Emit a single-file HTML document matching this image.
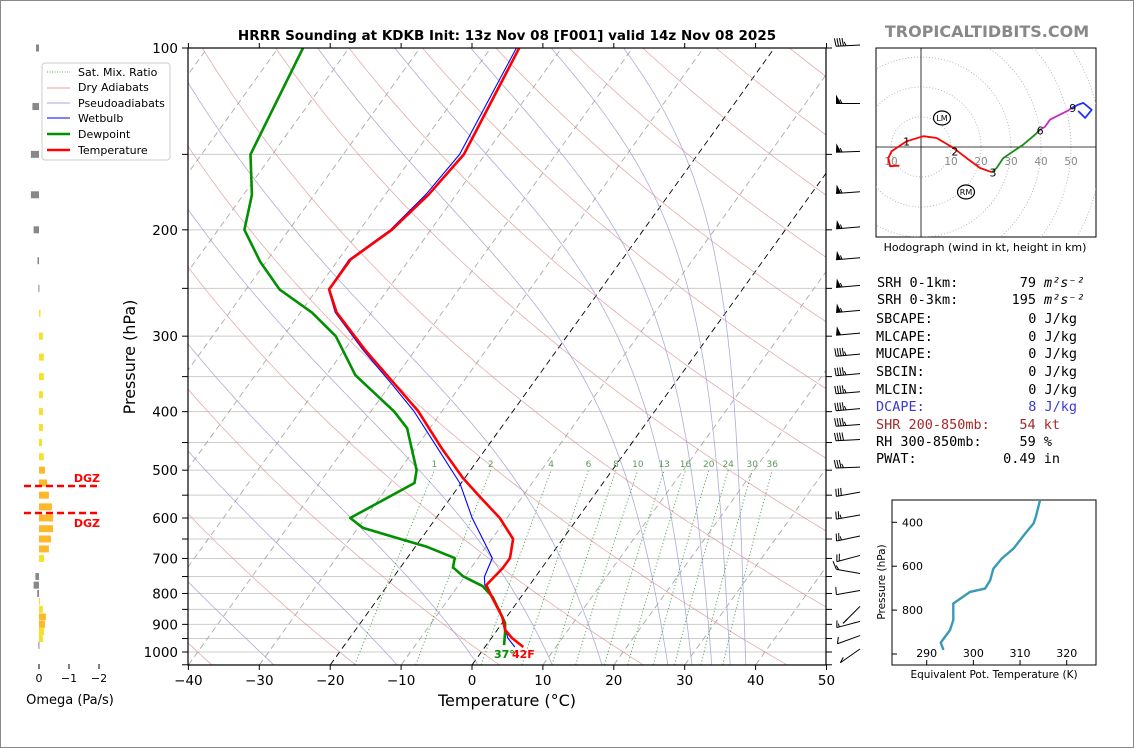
<!DOCTYPE html>
<html><head><meta charset="utf-8"><style>
html,body{margin:0;padding:0;background:#fff;}
svg{display:block;font-family:"DejaVu Sans","Liberation Sans",sans-serif;}
.mono{font-family:"DejaVu Sans Mono","Liberation Mono",monospace;font-size:13.5px;}
</style></head><body>
<svg id="fig" width="1134" height="748" viewBox="0 0 1134 748" xmlns="http://www.w3.org/2000/svg">
<defs>
<clipPath id="plotclip"><rect x="188" y="48" width="638" height="617"/></clipPath>
<clipPath id="hodoclip"><rect x="876" y="48" width="220" height="189"/></clipPath>
<clipPath id="insetclip"><rect x="892" y="500" width="204" height="165"/></clipPath>
</defs>
<rect x="0.5" y="0.5" width="1133" height="747" fill="#fff" stroke="#888"/>
<text x="507" y="40" text-anchor="middle" font-size="13.5" font-weight="bold">HRRR Sounding at KDKB Init: 13z Nov 08 [F001] valid 14z Nov 08 2025</text>
<text x="987" y="37" text-anchor="middle" font-size="16" font-weight="bold" fill="#888">TROPICALTIDBITS.COM</text>
<g id="bg" clip-path="url(#plotclip)"></g>
<g id="series" clip-path="url(#plotclip)"></g>
<rect x="188" y="48" width="638" height="617" fill="none" stroke="#000" stroke-width="1.2"/>
<g id="axes"></g>
<text x="0" y="0" transform="translate(135,357) rotate(-90)" text-anchor="middle" font-size="16">Pressure (hPa)</text>
<text x="507" y="706" text-anchor="middle" font-size="16">Temperature (°C)</text>
<g id="omega"></g>
<text x="70" y="704" text-anchor="middle" font-size="13">Omega (Pa/s)</text>
<g id="winds"></g>
<g>
<rect x="42" y="63" width="128" height="97" rx="3" fill="#fff" stroke="#ccc"/>
<line x1="47" y1="72" x2="70" y2="72" stroke="#2a9a2a" stroke-dasharray="1,1.5" stroke-width="0.8"/>
<text x="78" y="76" font-size="11">Sat. Mix. Ratio</text>
<line x1="47" y1="88" x2="70" y2="88" stroke="#e0a0a0"/>
<text x="78" y="91" font-size="11">Dry Adiabats</text>
<line x1="47" y1="103" x2="70" y2="103" stroke="#aaaadd"/>
<text x="78" y="107" font-size="11">Pseudoadiabats</text>
<line x1="47" y1="118" x2="70" y2="118" stroke="#0000ff"/>
<text x="78" y="122" font-size="11">Wetbulb</text>
<line x1="47" y1="134" x2="70" y2="134" stroke="#009000" stroke-width="2.5"/>
<text x="78" y="138" font-size="11">Dewpoint</text>
<line x1="47" y1="150" x2="70" y2="150" stroke="#ff0000" stroke-width="2.5"/>
<text x="78" y="154" font-size="11">Temperature</text>
</g>
<g id="hodo">
<rect x="876" y="48" width="220" height="189" fill="#fff" stroke="#000"/>
</g>
<text x="985" y="251" text-anchor="middle" font-size="11">Hodograph (wind in kt, height in km)</text>
<g class="mono">
<text x="877" y="287">SRH 0-1km:</text><text x="1036" y="287" text-anchor="end">79</text><text x="1044" y="287" font-style="italic">m²s⁻²</text>
<text x="877" y="304">SRH 0-3km:</text><text x="1036" y="304" text-anchor="end">195</text><text x="1044" y="304" font-style="italic">m²s⁻²</text>
<text x="876" y="323">SBCAPE:</text><text x="1077" y="323" text-anchor="end">0 J/kg</text>
<text x="876" y="341">MLCAPE:</text><text x="1077" y="341" text-anchor="end">0 J/kg</text>
<text x="876" y="358">MUCAPE:</text><text x="1077" y="358" text-anchor="end">0 J/kg</text>
<text x="876" y="376">SBCIN:</text><text x="1077" y="376" text-anchor="end">0 J/kg</text>
<text x="876" y="394">MLCIN:</text><text x="1077" y="394" text-anchor="end">0 J/kg</text>
<text x="876" y="411" fill="#3a3ad0">DCAPE:</text><text x="1077" y="411" text-anchor="end" fill="#3a3ad0">8 J/kg</text>
<text x="876" y="429" fill="#a52a2a">SHR 200-850mb:</text><text x="1060" y="429" text-anchor="end" fill="#a52a2a">54 kt</text>
<text x="876" y="446">RH 300-850mb:</text><text x="1052" y="446" text-anchor="end">59 %</text>
<text x="876" y="463">PWAT:</text><text x="1060" y="463" text-anchor="end">0.49 in</text>
</g>
<g id="inset">
<rect x="892" y="500" width="204" height="165" fill="#fff" stroke="#000"/>
</g>
<text x="0" y="0" transform="translate(885,582) rotate(-90)" text-anchor="middle" font-size="10.5">Pressure (hPa)</text>
<text x="994" y="678" text-anchor="middle" font-size="10.5">Equivalent Pot. Temperature (K)</text>
</svg>
<script>
// ---- data ----
const tempP=[100,150,175,200,224,251,274,316,361,399,458,515,554,600,650,699,726,775,811,875,919,948,981];
const tempT=[-56.0,-53.0,-53.9,-55.5,-58.3,-58.3,-54.9,-47.1,-39.3,-33.4,-26.5,-20.3,-15.9,-11.0,-7.0,-5.5,-5.5,-6.1,-4.1,-0.6,1.1,2.9,5.4];
const dewP=[100,150,175,200,226,251,274,300,348,400,426,446,500,525,600,623,670,699,724,749,778,811,875,895,926,974];
const dewT=[-86.5,-83.1,-78.8,-76.3,-70.8,-65.3,-58.4,-52.6,-45.9,-36.7,-33.2,-31.6,-27.6,-26.6,-32.1,-29.3,-18.3,-13.3,-12.6,-10.3,-6.5,-4.0,-0.6,0.4,1.3,2.5];
const wbP=[100,150,175,200,224,251,274,316,361,399,446,525,600,699,751,775,811,875,948,981];
const wbT=[-56.4,-53.6,-54.3,-55.7,-58.5,-58.4,-55.1,-47.4,-39.7,-34.0,-28.4,-20.2,-14.9,-8.0,-7.2,-6.3,-4.1,-0.6,2.3,4.2];
const omegaP=[100,125,150,175,200,225,250,275,300,325,350,375,400,425,450,475,500,525,550,575,600,625,650,675,700,750,775,800,825,850,875,900,925,950,975];
const omegaV=[0.1,0.22,0.27,0.27,0.18,0.05,0.02,-0.05,-0.13,-0.16,-0.16,-0.13,-0.13,-0.13,-0.1,-0.16,-0.2,-0.27,-0.33,-0.43,-0.47,-0.47,-0.4,-0.33,-0.17,0.12,0.18,0.06,-0.03,-0.13,-0.23,-0.2,-0.17,-0.13,0.02];
const windP=[100,125,150,175,200,225,250,275,300,325,350,375,400,425,450,500,550,600,650,700,750,800,850,900,950,1000];
const windSpd=[45,55,55,55,55,55,55,55,50,45,45,45,45,45,40,35,30,25,25,20,15,10,10,15,10,10];
const windAng=[-3,0,-2,-4,-5,-5,-5,-5,-5,-5,-5,-5,-5,-4,-3,-2,-10,-10,-12,-15,10,-10,-45,-15,-20,-35];
const hodoRedU=[-7.2,-10.3,-10.9,-9.8,-4.8,0.8,5.2,10.8,15.2,19.7,23.6];
const hodoRedV=[-6.2,-6.4,-3.7,-1.4,1.9,3.6,3.0,-0.3,-3.7,-7.0,-8.4];
const hodoGreenU=[23.6,25.2,27.4,34.1,38.0,39.7];
const hodoGreenV=[-8.4,-7.0,-3.7,0.8,4.1,5.8];
const hodoMagU=[39.7,41.3,43.0,44.1,49.1,50.2];
const hodoMagV=[5.8,6.7,9.1,9.7,12.2,13.0];
const hodoBlueU=[50.2,52.4,54.1,56.9,54.7,52.4];
const hodoBlueV=[13.0,14.1,14.7,12.4,9.7,12.0];
const hodoLabels=["1","2","3","6","9"];
const hodoLabelU=[-4.8,11.3,24.0,39.7,50.6];
const hodoLabelV=[1.8,-1.5,-8.5,5.5,13.0];
const thetaE=[314.3,313.4,312.9,311.1,308.6,306.1,304.3,303.6,302.5,299.3,295.7,295.7,295.0,293.0,293.6];
const thetaEP=[298,374,405,451,520,565,611,664,702,717,770,845,891,948,982];
const pTicks=[100,200,300,400,500,600,700,800,900,1000];
const tTicks=[-40,-30,-20,-10,0,10,20,30,40,50];
const mixRatios=[1,2,4,6,8,10,13,16,20,24,30,36];
const omegaTicks=[0,-1,-2];
const insetXTicks=[290,300,310,320];
const insetYTicks=[400,600,800,1000];

// ---- scales ----
function yP(p){return 48+604*Math.log10(p/100);}
function xT(T,p){return 472+7.09*T+0.72*(665-yP(p));}
function xO(w){return 39-30*w;}
function hx(u){return 921+3*u;}
function hy(v){return 147-3*v;}
function ix(th){return 926.7+(th-290)*4.667;}
function iy(p){return 522.3+(p-400)*0.2195;}

const NS="http://www.w3.org/2000/svg";
function mk(tag,parent,attrs){const e=document.createElementNS(NS,tag);for(const k in attrs)e.setAttribute(k,attrs[k]);parent.appendChild(e);return e;}
const bg=document.getElementById('bg'),series=document.getElementById('series'),axes=document.getElementById('axes');

for(let p=100;p<=1050;p+=50){
  const l=mk('line',bg,{x1:188,x2:826,y1:yP(p),y2:yP(p),stroke:'#cccccc','stroke-width':1});
  
  
}
for(let T=-130;T<=50;T+=10){
  const c=(T===0||T===-20)?'#000':'#aaa';
  const l=mk('line',bg,{x1:xT(T,1050),y1:yP(1050),x2:xT(T,100),y2:yP(100),stroke:c,'stroke-width':0.9,'stroke-dasharray':'6,4'});
  
  
}
for(let th=-40;th<=220;th+=20){
  let d='';
  for(let p=1050;p>=100;p-=10){const T=(th+273.15)*Math.pow(p/1000,0.286)-273.15;d+=(d?'L':'M')+xT(T,p).toFixed(1)+','+yP(p).toFixed(1);}
  const l=mk('path',bg,{d:d,fill:'none',stroke:'#d88',opacity:0.7,'stroke-width':0.8});
  
  
}
function es(T){return 6.112*Math.exp(17.67*T/(T+243.5));}
const moistStart=[-28,-10.6,0.8,11.3,18.3,27.6,31,33.8,36.4,38.6];
moistStart.forEach(T0=>{
  let T=T0,d='';
  for(let p=1050;p>=100;p-=2){
    d+=(d?'L':'M')+xT(T,p).toFixed(1)+','+yP(p).toFixed(1);
    const Tk=T+273.15,e=es(T),rs=0.622*e/(p-e);
    const dTdp=(287*Tk+2.5e6*rs)/(p*(1005+2.5e6*2.5e6*rs*0.622/(287*Tk*Tk)));
    T-=dTdp*2;
  }
  const l=mk('path',bg,{d:d,fill:'none',stroke:'#99c',opacity:0.8,'stroke-width':0.8});
  
  
});
mixRatios.forEach(w=>{
  let d='';
  for(let p=1050;p>=500;p-=10){const e=w*p/(622+w);const L=Math.log(e/6.112);const Td=243.5*L/(17.67-L);d+=(d?'L':'M')+xT(Td,p).toFixed(1)+','+yP(p).toFixed(1);}
  const l=mk('path',bg,{d:d,fill:'none',stroke:'#2a8a2a','stroke-width':0.9,'stroke-dasharray':'1.2,2.2',opacity:0.8});
  
  
  const e=w*500/(622+w);const L=Math.log(e/6.112);const Td=243.5*L/(17.67-L);
  const t=mk('text',bg,{x:xT(Td,500),y:yP(500)-3,'font-size':9,fill:'#5a9a5a','text-anchor':'middle'});
  t.textContent=w;
  
  
});
function prof(P,T,color,w){
  let d='';P.forEach((p,i)=>{d+=(i?'L':'M')+xT(T[i],p).toFixed(1)+','+yP(p).toFixed(1);});
  return mk('path',series,{d:d,fill:'none',stroke:color,'stroke-width':w,'stroke-linejoin':'round'});
}
const wbl=prof(wbP,wbT,'#0000ff',1.1);


const dwl=prof(dewP,dewT,'#009000',2.6);


const tl=prof(tempP,tempT,'#ff0000',2.6);


const sd=mk('text',series,{x:494,y:658,'font-size':11,'font-weight':'bold',fill:'#009000'});
sd.textContent='37°';


const st=mk('text',series,{x:512,y:658,'font-size':11,'font-weight':'bold',fill:'#ff0000'});
st.textContent='42F';



for(let p=100;p<=1050;p+=50){
  const y=yP(p);
  const a=mk('line',axes,{x1:182,x2:188,y1:y,y2:y,stroke:'#000'});
  
  
  const b=mk('line',axes,{x1:826,x2:832,y1:y,y2:y,stroke:'#000'});
  
  
}
pTicks.forEach(p=>{
  const t=mk('text',axes,{x:178,y:yP(p)+5,'text-anchor':'end','font-size':13.5});
  t.textContent=p;
  
  
});
tTicks.forEach(T=>{
  const x=472+7.09*T;
  const a=mk('line',axes,{x1:x,x2:x,y1:665,y2:670,stroke:'#000'});
  
  
  const b=mk('line',axes,{x1:x,x2:x,y1:43,y2:48,stroke:'#000'});
  
  
  const t=mk('text',axes,{x:x,y:685,'text-anchor':'middle','font-size':13.5});
  t.textContent=(T<0?'\u2212'+(-T):T);
  
  
});

const om=document.getElementById('omega');
omegaP.forEach((p,i)=>{
  const w=omegaV[i];const x=xO(w);
  const col=w>0?'#888888':(w<=-0.2?'#fdb92b':'#f7e02a');
  const r=mk('rect',om,{x:Math.min(39,x),y:yP(p)-3.5,width:Math.max(1,Math.abs(x-39)),height:7,fill:col});
  
  
});
omegaTicks.forEach(w=>{
  const a=mk('line',om,{x1:xO(w),x2:xO(w),y1:664,y2:669,stroke:'#000'});
  
  
  const t=mk('text',om,{x:xO(w),y:682,'text-anchor':'middle','font-size':11});
  t.textContent=w===0?'0':'\u2212'+(-w);
  
  
});
[486,513].forEach((y,i)=>{
  const l=mk('line',om,{x1:24,x2:99,y1:y,y2:y,stroke:'#ff0000','stroke-width':2.5,'stroke-dasharray':'7,4'});
  
  
  const t=mk('text',om,{x:100,y:i===0?482:527,'text-anchor':'end','font-size':11,'font-weight':'bold',fill:'#ff0000'});
  t.textContent='DGZ';
  
  
});

const wg=document.getElementById('winds');
windP.forEach((p,i)=>{
  const px=860,py=yP(p)-3;
  const a=windAng[i]*Math.PI/180;
  const dx=-Math.cos(a),dy=-Math.sin(a);
  const nxx=-Math.sin(a),nyy=-Math.cos(a);
  const ex=px+dx*24,ey=py+dy*24;
  const s=mk('line',wg,{x1:px,y1:py,x2:ex,y2:ey,stroke:'#000','stroke-width':1});
  
  
  let spd=windSpd[i],pos=0;
  while(spd>=50){
    const bx=ex-dx*pos,by=ey-dy*pos;
    const f=mk('polygon',wg,{points:`${bx},${by} ${bx-dx*5},${by-dy*5} ${bx+nxx*9},${by+nyy*9}`,fill:'#000'});
    
    
    spd-=50;pos+=6;
  }
  while(spd>=5){
    const bx=ex-dx*pos,by=ey-dy*pos;
    const L=spd>=10?8:4;
    const b=mk('line',wg,{x1:bx,y1:by,x2:bx+nxx*L+dx*2,y2:by+nyy*L+dy*2,stroke:'#000','stroke-width':1});
    
    
    spd-=(spd>=10?10:5);pos+=2.5;
  }
});

const hg=document.getElementById('hodo');
const hc=mk('g',hg,{'clip-path':'url(#hodoclip)'});
for(let r=10;r<=80;r+=10){
  const c=mk('circle',hc,{cx:hx(0),cy:hy(0),r:3*r,fill:'none',stroke:'#aaa','stroke-width':0.8,'stroke-dasharray':'1,2'});
  
  
}
const ax1=mk('line',hc,{x1:876,x2:1096,y1:hy(0),y2:hy(0),stroke:'#000','stroke-width':0.8});


const ax2=mk('line',hc,{x1:hx(0),x2:hx(0),y1:48,y2:237,stroke:'#000','stroke-width':0.8});


[-10,10,20,30,40,50].forEach(k=>{
  const t=mk('text',hc,{x:hx(k),y:hy(0)+18,'text-anchor':'middle','font-size':10.5,fill:'#888'});
  t.textContent=Math.abs(k);
  
  
});
function hpath(U,V,col){let d='';U.forEach((u,i)=>{d+=(i?'L':'M')+hx(u).toFixed(1)+','+hy(V[i]).toFixed(1);});return mk('path',hc,{d:d,fill:'none',stroke:col,'stroke-width':1.8,'stroke-linejoin':'round'});}
const h1=hpath(hodoRedU,hodoRedV,'#ff0000');


const h2=hpath(hodoGreenU,hodoGreenV,'#1a8a1a');


const h3=hpath(hodoMagU,hodoMagV,'#c030c0');


const h4=hpath(hodoBlueU,hodoBlueV,'#2030ff');


hodoLabels.forEach((s,i)=>{
  const t=mk('text',hc,{x:hx(hodoLabelU[i]),y:hy(hodoLabelV[i])+4,'text-anchor':'middle','font-size':11});
  t.textContent=s;
  
  
});
[['LM',942,118],['RM',966,192]].forEach(m=>{
  const e=mk('ellipse',hc,{cx:m[1],cy:m[2],rx:8.5,ry:7,fill:'#fff',stroke:'#000','stroke-width':1.2});
  
  
  const t=mk('text',hc,{x:m[1],y:m[2]+3,'text-anchor':'middle','font-size':8});
  t.textContent=m[0];
  
  
});

const ig=document.getElementById('inset');
insetXTicks.forEach(th=>{
  const a=mk('line',ig,{x1:ix(th),x2:ix(th),y1:660,y2:665,stroke:'#000'});
  
  
  const t=mk('text',ig,{x:ix(th),y:657,'text-anchor':'middle','font-size':11});
  t.textContent=th;
  
  
});
insetYTicks.forEach(p=>{
  const a=mk('line',ig,{x1:892,x2:897,y1:iy(p),y2:iy(p),stroke:'#000'});
  
  
  if(p<1000){
    const t=mk('text',ig,{x:902,y:iy(p)+4,'font-size':11});
    t.textContent=p;
    
    
  }
});
let td='';thetaE.forEach((th,i)=>{td+=(i?'L':'M')+ix(th).toFixed(1)+','+iy(thetaEP[i]).toFixed(1);});
const tc=mk('path',ig,{d:td,fill:'none',stroke:'#3a9ab5','stroke-width':2.4,'stroke-linejoin':'round','clip-path':'url(#insetclip)'});


</script>
</body></html>
